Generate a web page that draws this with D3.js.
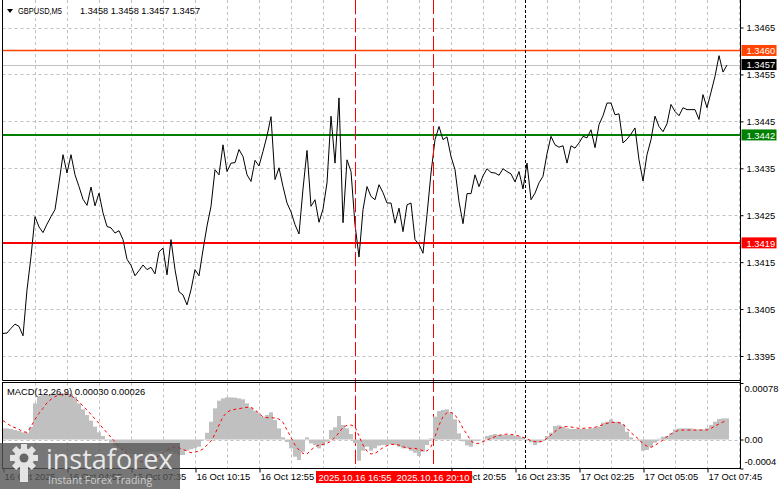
<!DOCTYPE html>
<html><head><meta charset="utf-8">
<script src="https://cdn.jsdelivr.net/npm/d3@7"></script>
<style>
body{margin:0;background:#fff;}
svg{display:block;font-family:"Liberation Sans",Arial,sans-serif;}
</style></head><body><svg id="c" width="781" height="489"></svg>
<script>
// ---- DATA (one sample every 2 bars of M5) ----
const barsPerSample = 2;
const lastBar = 362;
const closePrices = [
1.33998,1.33999,1.34009,1.34018,1.34013,1.33993,1.34091,1.34162,1.34247,1.34225,
1.34213,1.34231,1.34247,1.34262,1.34319,1.34379,1.34340,1.34379,1.34336,1.34311,
1.34284,1.34271,1.34310,1.34270,1.34297,1.34255,1.34226,1.34223,1.34212,1.34217,
1.34198,1.34156,1.34143,1.34121,1.34132,1.34144,1.34134,1.34139,1.34125,1.34172,
1.34180,1.34123,1.34198,1.34134,1.34087,1.34080,1.34059,1.34091,1.34134,1.34121,
1.34176,1.34227,1.34269,1.34347,1.34336,1.34400,1.34343,1.34361,1.34362,1.34390,
1.34375,1.34336,1.34322,1.34367,1.34355,
1.34386,1.34419,1.34460,1.34326,1.34351,1.34311,1.34276,1.34257,1.34230,1.34210,
1.34306,1.34388,1.34269,1.34283,1.34235,1.34263,1.34319,1.34461,1.34361,1.34500,
1.34234,1.34368,1.34343,1.34230,1.34161,1.34262,1.34311,1.34290,1.34283,1.34315,
1.34298,1.34276,1.34276,1.34233,1.34265,1.34215,1.34272,1.34276,1.34198,1.34188,
1.34169,1.34251,1.34340,1.34411,1.34439,1.34411,1.34417,1.34375,1.34347,1.34279,
1.34232,1.34296,1.34296,1.34336,1.34311,1.34334,1.34349,1.34341,1.34340,1.34335,
1.34349,1.34343,1.34338,1.34321,1.34343,1.34306,1.34361,1.34283,1.34297,1.34319,
1.34333,1.34381,1.34418,1.34400,1.34395,1.34398,1.34361,1.34398,1.34393,1.34404,
1.34418,1.34415,1.34432,1.34394,1.34443,1.34462,1.34489,1.34489,1.34464,1.34466,
1.34404,1.34412,1.34423,1.34436,1.34368,1.34323,1.34379,1.34411,1.34461,1.34439,
1.34428,1.34445,1.34486,1.34471,1.34462,1.34479,1.34475,1.34475,1.34475,1.34454,
1.34507,1.34479,1.34512,1.34546,1.34590,1.34555,1.34570];
const macdMain = [
0.000154,0.000154,0.000145,0.000131,0.000117,0.000099,0.000094,0.000177,0.000499,0.000601,
0.000614,0.000614,0.000628,0.000637,0.000637,0.000637,0.000637,0.000628,0.000591,0.000499,
0.000416,0.000338,0.000260,0.000177,0.000099,0.000048,-0.000007,-0.000044,-0.000085,-0.000122,
-0.000154,-0.000182,-0.000200,-0.000214,-0.000214,-0.000200,-0.000182,-0.000168,-0.000168,-0.000168,
-0.000154,-0.000168,-0.000168,-0.000191,-0.000214,-0.000214,-0.000154,-0.000136,-0.000122,-0.000099,
-0.000007,0.000094,0.000246,0.000430,0.000536,0.000568,0.000582,0.000582,0.000578,0.000568,
0.000555,0.000499,0.000444,0.000398,0.000361,
0.000315,0.000338,0.000375,0.000269,0.000154,0.000030,-0.000035,-0.000122,-0.000237,-0.000283,
-0.000168,0.000030,-0.000053,-0.000076,-0.000122,-0.000081,-0.000030,0.000131,0.000168,0.000324,
0.000200,0.000154,0.000076,-0.000053,-0.000292,-0.000154,-0.000099,-0.000154,-0.000122,-0.000085,
-0.000076,-0.000076,-0.000067,-0.000076,-0.000099,-0.000122,-0.000122,-0.000154,-0.000182,-0.000228,
-0.000168,-0.000076,0.000016,0.000315,0.000393,0.000407,0.000416,0.000375,0.000278,0.000085,
-0.000025,-0.000081,-0.000099,-0.000016,-0.000012,0.000002,0.000048,0.000062,0.000076,0.000062,
0.000062,0.000062,0.000062,0.000053,0.000044,0.000025,-0.000007,-0.000039,-0.000076,-0.000044,
-0.000007,0.000048,0.000094,0.000186,0.000196,0.000177,0.000154,0.000145,0.000145,0.000145,
0.000145,0.000145,0.000154,0.000163,0.000177,0.000232,0.000246,0.000278,0.000246,0.000246,
0.000209,0.000108,0.000030,0.000002,-0.000016,-0.000154,-0.000145,-0.000099,-0.000044,0.000012,
0.000039,0.000048,0.000085,0.000140,0.000154,0.000154,0.000154,0.000154,0.000140,0.000140,
0.000140,0.000154,0.000200,0.000246,0.000283,0.000292,0.000292];
const macdSignal = [
0.000260,0.000223,0.000186,0.000163,0.000140,0.000108,0.000099,0.000177,0.000278,0.000361,
0.000430,0.000508,0.000555,0.000591,0.000614,0.000624,0.000628,0.000605,0.000568,0.000522,
0.000462,0.000407,0.000347,0.000283,0.000223,0.000154,0.000094,0.000030,-0.000030,-0.000099,
-0.000145,-0.000200,-0.000246,-0.000283,-0.000301,-0.000306,-0.000306,-0.000283,-0.000260,-0.000223,
-0.000182,-0.000145,-0.000122,-0.000099,-0.000113,-0.000136,-0.000159,-0.000182,-0.000173,-0.000159,
-0.000131,-0.000076,-0.000021,0.000076,0.000200,0.000315,0.000375,0.000407,0.000416,0.000426,
0.000435,0.000444,0.000444,0.000407,0.000361,
0.000311,0.000301,0.000301,0.000297,0.000283,0.000237,0.000131,0.000030,-0.000076,-0.000145,
-0.000191,-0.000200,-0.000145,-0.000099,-0.000076,-0.000067,-0.000053,-0.000021,0.000030,0.000094,
0.000168,0.000196,0.000200,0.000177,0.000048,-0.000076,-0.000159,-0.000200,-0.000191,-0.000154,
-0.000113,-0.000085,-0.000067,-0.000067,-0.000076,-0.000099,-0.000117,-0.000122,-0.000122,-0.000136,
-0.000154,-0.000159,-0.000099,0.000039,0.000200,0.000315,0.000370,0.000375,0.000338,0.000260,
0.000154,0.000071,-0.000021,-0.000053,-0.000053,-0.000030,-0.000007,0.000016,0.000039,0.000058,
0.000067,0.000076,0.000071,0.000062,0.000048,0.000030,0.000007,-0.000016,-0.000030,-0.000030,
-0.000021,0.000016,0.000062,0.000108,0.000154,0.000177,0.000177,0.000173,0.000163,0.000154,
0.000154,0.000159,0.000163,0.000168,0.000186,0.000205,0.000223,0.000237,0.000237,0.000232,
0.000214,0.000154,0.000094,0.000048,0.000002,-0.000062,-0.000090,-0.000108,-0.000081,-0.000044,
-0.000007,0.000039,0.000076,0.000108,0.000127,0.000131,0.000131,0.000131,0.000131,0.000131,
0.000131,0.000131,0.000154,0.000186,0.000214,0.000242,0.000260];
const priceTicks = [1.3395,1.3405,1.3415,1.3425,1.3435,1.3445,1.3455,1.3465];
const macdTicks = [0.00078, 0, -0.0004];
const macdTickLabels = ["0.00078","0.00","-0.0004"];
const timeTickBars = [0,32,64,96,128,224,256,288,320,352];
const timeTickLabels = ["16 Oct 2025","16 Oct 04:55","16 Oct 07:35","16 Oct 10:15","16 Oct 12:55","16 Oct 20:55","16 Oct 23:35","17 Oct 02:25","17 Oct 05:05","17 Oct 07:45"];
const levelPrices = [1.3460, 1.3442, 1.3419];
const bidPrice = 1.3457;
const eventBars = [176, 215];
const eventLabels = ["2025.10.16 16:55","2025.10.16 20:10"];
const daySeparatorBar = 261;
const headerSymbol = "GBPUSD,M5";
const headerOHLC = [1.3458, 1.3458, 1.3457, 1.3457];
const macdText = "MACD(12,26,9) 0.00030 0.00026";

// ---- LAYOUT ----
const L = 2.5, R = 740.5, mainBot = 380.5, mTop = 382.5, mBot = 468.5;
const levelColors = ["#FF4500","#008000","#FF0000"];
const levelWidths = [1, 2, 2];
const FS = 9.4;
const svg = d3.select("#c");

const x = d3.scaleLinear().domain([0, lastBar]).range([3, 727]);
const yP = d3.scaleLinear().domain([1.3395, 1.3465]).range([356, 27.5]);
const yM = d3.scaleLinear().domain([-0.000393, 0.00078]).range([468, 383]);

const defs = svg.append("defs");
defs.append("clipPath").attr("id","cm").append("rect").attr("x",L).attr("y",0).attr("width",R-L).attr("height",mainBot);
defs.append("clipPath").attr("id","cd").append("rect").attr("x",L).attr("y",mTop).attr("width",R-L).attr("height",mBot-mTop);

// grid
const gridBars = d3.range(16, lastBar + 8, 16);
const grid = svg.append("g").attr("stroke","#c0c0c0").attr("stroke-dasharray","3,3").attr("stroke-width",1);
grid.selectAll(".hg").data(priceTicks).join("line")
  .attr("x1",L).attr("x2",R).attr("y1",d=>Math.round(yP(d))+0.5).attr("y2",d=>Math.round(yP(d))+0.5);
grid.selectAll(".vg").data(gridBars.filter(b=>x(b)<R)).join("line")
  .attr("x1",d=>Math.round(x(d))+0.5).attr("x2",d=>Math.round(x(d))+0.5).attr("y1",0).attr("y2",mainBot);
grid.selectAll(".vg2").data(gridBars.filter(b=>x(b)<R)).join("line")
  .attr("x1",d=>Math.round(x(d))+0.5).attr("x2",d=>Math.round(x(d))+0.5).attr("y1",mTop).attr("y2",mBot);
grid.append("line").attr("x1",L).attr("x2",R).attr("y1",Math.round(yM(0))+0.5).attr("y2",Math.round(yM(0))+0.5);

// horizontal levels
const gm = svg.append("g").attr("clip-path","url(#cm)");
gm.append("line").attr("x1",L).attr("x2",R).attr("y1",Math.round(yP(bidPrice))+0.5).attr("y2",Math.round(yP(bidPrice))+0.5)
  .attr("stroke","#c0c0c0");
gm.selectAll(".lv").data(levelPrices).join("line")
  .attr("x1",L).attr("x2",R)
  .attr("y1",(d,i)=>levelWidths[i]===1?Math.floor(yP(d))+0.5:Math.round(yP(d)))
  .attr("y2",(d,i)=>levelWidths[i]===1?Math.floor(yP(d))+0.5:Math.round(yP(d)))
  .attr("stroke",(d,i)=>levelColors[i]).attr("stroke-width",(d,i)=>levelWidths[i]===1?1.3:2);

// event lines & day separator
svg.selectAll(".ev").data(eventBars).join("line")
  .attr("x1",d=>Math.round(x(d))+0.5).attr("x2",d=>Math.round(x(d))+0.5).attr("y1",0).attr("y2",mBot)
  .attr("stroke","#FF0000").attr("stroke-dasharray","14,4");
svg.append("line").attr("x1",Math.round(x(daySeparatorBar))+0.5).attr("x2",Math.round(x(daySeparatorBar))+0.5)
  .attr("y1",0).attr("y2",mBot).attr("stroke","#000").attr("stroke-dasharray","3,2");

// price line
const line = d3.line().x((d,i)=>x(i*barsPerSample)).y(d=>yP(d));
gm.append("path").datum(closePrices).attr("d",line).attr("fill","none").attr("stroke","#000").attr("stroke-width",1);

// MACD
const gd = svg.append("g").attr("clip-path","url(#cd)");
gd.selectAll(".hb").data(macdMain).join("rect")
  .attr("x",(d,i)=>x(i*barsPerSample)-2).attr("width",4)
  .attr("y",d=>Math.min(yM(d),yM(0))).attr("height",d=>Math.abs(yM(d)-yM(0)))
  .attr("fill","#c0c0c0");
gd.append("path").datum(macdSignal).attr("d",d3.line().x((d,i)=>x(i*barsPerSample)).y(d=>yM(d)))
  .attr("fill","none").attr("stroke","#FF0000").attr("stroke-dasharray","3,3");

// borders
const bd = svg.append("g").attr("stroke","#000").attr("fill","none");
bd.append("line").attr("x1",L).attr("x2",L).attr("y1",0).attr("y2",mainBot);
bd.append("line").attr("x1",L).attr("x2",R).attr("y1",mainBot).attr("y2",mainBot);
bd.append("rect").attr("x",L).attr("y",mTop).attr("width",R-L).attr("height",mBot-mTop);
bd.append("line").attr("x1",R).attr("x2",R).attr("y1",0).attr("y2",mBot);

// price axis
const pa = svg.append("g").attr("transform",`translate(${R},0)`)
  .call(d3.axisRight(yP).tickValues(priceTicks).tickFormat(d3.format(".4f")).tickSize(3).tickPadding(3));
pa.select(".domain").remove();
pa.selectAll("text").attr("font-size",FS).attr("font-family","Liberation Sans, Arial, sans-serif").attr("fill","#000");
pa.selectAll("line").attr("stroke","#000");

// macd axis
const ma = svg.append("g").attr("transform",`translate(${R},0)`)
  .call(d3.axisRight(yM).tickValues(macdTicks).tickFormat((d,i)=>macdTickLabels[i]).tickSize(3).tickPadding(1));
ma.select(".domain").remove();
ma.selectAll("text").attr("font-size",FS).attr("font-family","Liberation Sans, Arial, sans-serif").attr("fill","#000")
  .attr("dy",(d,i)=>i===0?"0.95em":(i===2?"-0.4em":"0.32em"));
ma.selectAll("line").attr("stroke","#000");

// time axis
const ta = svg.append("g").attr("transform",`translate(0,${mBot})`)
  .call(d3.axisBottom(x).tickValues(timeTickBars).tickFormat((d,i)=>timeTickLabels[i]).tickSize(4).tickPadding(1));
ta.select(".domain").remove();
ta.selectAll("text").attr("font-size",FS).attr("font-family","Liberation Sans, Arial, sans-serif").attr("fill","#000")
  .attr("text-anchor","start").attr("dx","1");
ta.selectAll(".tick line").attr("stroke","#000").attr("transform","translate(0.5,0)");

// event label boxes
const evg = svg.selectAll(".evl").data(eventBars).join("g");
evg.append("rect").attr("x",d=>x(d)-39).attr("y",471).attr("width",78).attr("height",12).attr("fill","#FF0000");
evg.append("text").attr("x",d=>x(d)).attr("y",480.5).attr("text-anchor","middle").attr("fill","#fff")
  .attr("font-size",FS).text((d,i)=>eventLabels[i]);

// price label boxes
const boxes = [
  {p: levelPrices[0], c: levelColors[0]},
  {p: bidPrice, c:"#000"},
  {p: levelPrices[1], c: levelColors[1]},
  {p: levelPrices[2], c: levelColors[2]}
];
const bx = svg.selectAll(".pbox").data(boxes).join("g");
bx.append("rect").attr("x",R+1).attr("y",d=>yP(d.p)-6).attr("width",35).attr("height",11).attr("fill",d=>d.c);
bx.append("text").attr("x",R+6).attr("y",d=>yP(d.p)+3.3).attr("fill","#fff").attr("font-size",FS)
  .text(d=>d3.format(".4f")(d.p));

// headers
svg.append("path").attr("d","M7,9 L13,9 L10,13 Z").attr("fill","#000");
svg.append("text").attr("x",18).attr("y",14).attr("font-size",9.6).attr("fill","#000")
  .attr("textLength",44).attr("lengthAdjust","spacingAndGlyphs").text(headerSymbol);
svg.append("text").attr("x",80).attr("y",14).attr("font-size",9.2).attr("fill","#000")
  .text(headerOHLC.map(d3.format(".4f")).join(" "));
svg.append("text").attr("x",7).attr("y",395).attr("font-size",FS).attr("fill","#000").text(macdText);

// watermark
const wm = svg.append("g");
wm.append("rect").attr("x",0).attr("y",443).attr("width",180).attr("height",46).attr("fill","#555").attr("opacity",0.8);
const gear = wm.append("g").attr("transform","translate(24,458)").attr("fill","#e4e4e4");
d3.range(8).forEach(k=>{
  gear.append("rect").attr("x",-3).attr("y",-14).attr("width",6).attr("height",6)
    .attr("transform",`rotate(${k*45})`);
});
gear.append("circle").attr("r",10);
gear.append("circle").attr("r",4.5).attr("fill","#666");
gear.append("rect").attr("x",-4).attr("y",8).attr("width",8).attr("height",16).attr("fill","#e4e4e4");
wm.append("text").attr("x",46).attr("y",469).attr("font-family","Open Sans, sans-serif").attr("font-size",27)
  .attr("fill","#e8e8e8").text("instaforex");
wm.append("text").attr("x",48).attr("y",484).attr("font-family","Open Sans, sans-serif").attr("font-size",10.5)
  .attr("fill","#d0d0d0").text("Instant Forex Trading");
</script></body></html>
